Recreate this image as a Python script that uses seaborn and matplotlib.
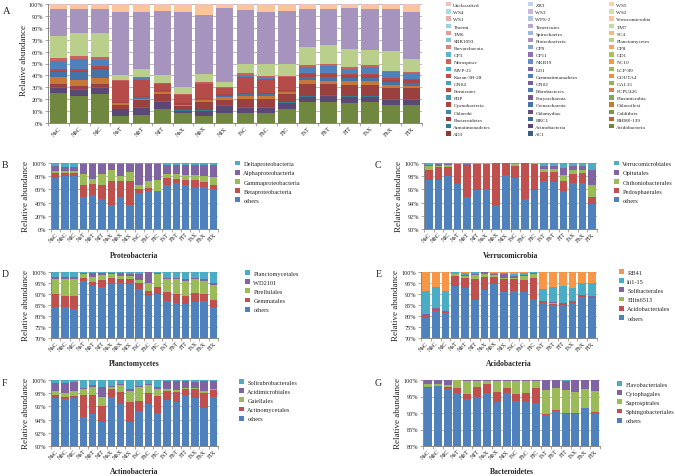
import numpy as np
import pandas as pd
import matplotlib
matplotlib.use("Agg")
import matplotlib.pyplot as plt
from matplotlib.patches import Patch
from matplotlib.ticker import MultipleLocator, PercentFormatter, FixedLocator
import seaborn as sns

samples = ["NsC", "NbC", "NlC", "NsT", "NbT", "NlT", "NsX", "NbX", "NlX",
           "FsC", "FbC", "FlC", "FsT", "FbT", "FlT", "FsX", "FbX", "FlX"]

# ---- panel A: phyla, in stacking order (bottom first) ----
phyla = ["AC1", "AD3", "Acidobacteria", "Actinobacteria", "Armatimonadetes", "BHI80-139",
         "BRC1", "Bacteroidetes", "Caldithrix", "Chlamydiae", "Chlorobi", "Chloroflexi",
         "Crenarchaeota", "Cyanobacteria", "Elusimicrobia", "Euryarchaeota", "FBP", "FCPU426",
         "Fibrobacteres", "Firmicutes", "GAL15", "GN02", "GN04", "GOUTA4",
         "Gemmatimonadetes", "Kazan-3B-28", "LCP-89", "LD1", "MVP-21", "NC10",
         "NKB19", "Nitrospirae", "OD1", "OP11", "OP3", "OP8",
         "OP9", "Parvarchaeota", "Planctomycetes", "Proteobacteria", "SBR1093", "SC4",
         "Spirochaetes", "TM6", "TM7", "Tenericutes", "Thermi", "Verrucomicrobia",
         "WPS-2", "WS1", "WS2", "WS3", "WS4", "WS5", "ZB3", "Unclassified"]

acidobacteria = [25, 23, 24.5, 6, 7, 12, 8, 6, 8.5, 8, 8.5, 12, 17.5, 18, 17, 17.5, 15, 15]
actinobacteria = [4.5, 4.5, 4.5, 5.5, 6, 6, 2.5, 4.5, 6, 5, 4.5, 5, 4, 4.5, 4.5, 4, 4.5, 4]
armatimonadetes = [0.8, 1, 1, 0.5, 0.5, 0.5, 0.5, 0.5, 0.5, 0.5, 0.5, 0.5, 1, 1, 1, 1, 1, 1]
bacteroidetes = [2.7, 2.5, 2.5, 3, 5.5, 5.5, 3, 7, 4, 7, 7, 6.5, 10.5, 9, 9.5, 9.5, 9, 9]
chloroflexi = [5.5, 5, 5, 1.5, 1.5, 2, 1, 1, 3, 2.5, 2.5, 2, 3, 3, 3, 3, 2.5, 2.5]
crenarchaeota = [4.5, 7, 8, 0.5, 1.5, 1, 0.5, 1, 1, 1.5, 1, 0.5, 3, 3.5, 3, 3, 2.5, 2.5]
cyanobacteria = [1, 1, 1, 1, 1, 1, 1, 1, 1, 1, 1, 1, 2, 2, 2, 2, 2, 2]
firmicutes = [1, 1, 1, 17, 13, 5, 7, 12, 5, 13.5, 12, 11, 1, 1, 1, 1, 1, 1]
gemmatimonadetes = [7.5, 8.5, 5.5, 0.5, 1.5, 0.5, 0.3, 1, 0.5, 1.5, 1.5, 0.5, 5, 6, 4.5, 6, 5, 5]
nitrospirae = [2.5, 2.5, 2.5, 0.5, 1, 0.5, 0.2, 0.5, 0.5, 1.5, 1, 0.5, 1.5, 1.5, 1.5, 1.5, 1.5, 1]
planctomycetes = [18.5, 19.5, 20, 4.5, 6.5, 6.5, 6, 6.5, 4.5, 8, 10.5, 10, 15.5, 16, 15, 13, 16.5, 11]
proteobacteria = [22, 20, 20, 52.5, 48, 53.5, 63.5, 50, 62, 45, 43, 45, 32, 30.5, 34.5, 34.5, 35.5, 39]
sbr1093 = [0.5, 0.5, 0.5, 0, 0, 0, 0, 0, 0, 0, 0, 0, 0, 0, 0, 0, 0, 0]
tm7 = [0, 0, 0, 1.5, 0.5, 0.5, 0.5, 0, 0, 0, 0, 0, 0, 0, 0, 0, 0, 0]
verrucomicrobia = [3, 3, 3, 3.5, 5, 4, 4, 7, 2.5, 4, 5.5, 4, 3, 3, 2.5, 3, 3, 6]
unclassified = [1, 1, 1, 2, 1.5, 1.5, 2, 2, 1, 1, 1.5, 1.5, 1, 1, 1, 1, 1, 1]

# ---- panels B-G: orders within phyla ----
proteo_labels = ["others", "Betaproteobacteria", "Gammaproteobacteria",
                 "Alphaproteobacteria", "Deltaproteobacteria"]
proteo_others = [78, 80, 80, 48, 52, 46, 37, 49, 37, 55, 58, 57, 67, 69, 67, 64, 63, 61]
proteo_beta = [7, 5, 5, 19, 16, 20, 36, 23, 36, 6, 4, 1, 10, 7, 7, 10, 8, 5]
proteo_gamma = [3, 3, 3, 16, 8, 18, 16, 8, 13, 6, 11, 17, 7, 7, 8, 8, 9, 13]
proteo_alpha = [7, 6, 6, 15, 22, 14, 9, 18, 12, 31, 25, 23, 13, 14, 15, 15, 17, 18]
proteo_delta = [5, 6, 6, 2, 2, 2, 2, 2, 2, 2, 2, 2, 3, 3, 3, 3, 3, 3]

verru_labels = ["others", "Pedosphaerales", "Chthoniobacterales",
                "Opitutales", "Verrucomicrobiales"]
verru_others = [97.4, 97.4, 98.0, 96.8, 94.8, 95.9, 96.1, 93.6, 98.2,
                97.7, 94.6, 95.9, 97.2, 97.1, 95.8, 97.0, 97.0, 93.8]
verru_pedo = [1.6, 2.0, 1.4, 3.1, 4.9, 4.0, 3.8, 6.2, 1.6, 1.9, 5.2, 4.0, 1.4, 1.5, 1.4, 1.3, 1.5, 1.0]
verru_chtho = [0.5, 0.2, 0.3, 0.05, 0.05, 0.05, 0.05, 0.05, 0.1, 0.2, 0.05, 0.05, 0.5, 0.5, 1.0, 0.7, 0.4, 1.8]
verru_opit = [0.2, 0.2, 0.15, 0.05, 0.15, 0.05, 0.05, 0.1, 0.05, 0.1, 0.1, 0.05, 0.4, 0.4, 1.0, 0.6, 0.7, 2.3]
verru_verru = [0.3, 0.2, 0.15, 0.0, 0.1, 0.0, 0.0, 0.05, 0.05, 0.1, 0.05, 0.0, 0.5, 0.5, 0.8, 0.4, 0.4, 1.1]

planct_labels = ["others", "Gemmatales", "Pirellulales", "WD2101", "Planctomycetales"]
planct_others = [84.3, 83.9, 83.1, 95.8, 94.0, 93.3, 94.8, 94.8, 95.0,
                 92.4, 89.0, 90.0, 86.6, 86.0, 85.3, 86.5, 86.6, 84.0]
planct_gemm = [5.5, 5.4, 5.9, 1.7, 1.6, 2.9, 2.6, 1.8, 1.8, 2.8, 2.4, 3.0, 4.3, 4.1, 4.0, 4.1, 3.4, 3.1]
planct_pirell = [7.0, 7.5, 7.8, 1.6, 2.2, 2.6, 1.6, 1.6, 1.6, 1.3, 3.5, 5.9, 5.8, 6.7, 6.7, 6.0, 6.0, 7.1]
planct_wd2101 = [1.0, 1.0, 1.0, 0.5, 1.6, 0.7, 0.6, 1.2, 0.9, 2.8, 4.9, 0.6, 0.7, 0.7, 0.7, 0.8, 0.7, 0.6]
planct_planct = [2.2, 2.2, 2.2, 0.4, 0.6, 0.5, 0.4, 0.6, 0.7, 0.7, 0.2, 0.5, 2.6, 2.5, 3.3, 2.6, 3.3, 5.2]

acido_labels = ["others", "Acidobacteriales", "Ellin6513", "Solibacterales", "iii1-15", "RB41"]
acido_others = [79.7, 82.3, 81.2, 93.7, 92.9, 87.4, 92.0, 94.4, 90.8,
                91.5, 91.1, 87.7, 85.7, 85.1, 84.9, 85.9, 88.7, 88.1]
acido_acidob = [0.6, 0.7, 0.5, 4.7, 4.5, 9.6, 5.8, 3.5, 6.1, 5.3, 5.4, 9.8, 0.6, 0.5, 0.5, 0.4, 0.4, 0.6]
acido_ellin = [0.1, 0.1, 0.1, 0.5, 0.6, 1.5, 1.2, 0.7, 0.5, 0.4, 1.5, 1.5, 0.1, 0.2, 0.1, 0.1, 0.1, 0.1]
acido_soli = [0.6, 0.6, 0.5, 0.4, 0.6, 0.7, 0.8, 0.6, 1.9, 1.1, 0.8, 0.5, 0.6, 0.7, 0.6, 0.6, 0.5, 0.4]
acido_iii = [10.5, 9.3, 9.2, 0.6, 1.1, 0.6, 0.1, 0.5, 0.4, 1.0, 0.7, 0.3, 5.5, 6.7, 7.6, 5.8, 5.4, 5.8]
acido_rb41 = [8.5, 7.0, 8.5, 0.1, 0.3, 0.2, 0.1, 0.3, 0.3, 0.7, 0.5, 0.2, 7.5, 6.8, 6.3, 7.2, 4.9, 5.0]

actino_labels = ["others", "Actinomycetales", "Gaiellales",
                 "Acidimicrobiales", "Solirubrobacterales"]
actino_others = [97.2, 97.1, 97.2, 94.4, 94.8, 93.7, 97.4, 96.3, 93.6,
                 95.3, 96.4, 95.0, 96.9, 96.7, 97.7, 97.2, 95.8, 97.5]
actino_actinom = [0.6, 0.4, 0.4, 3.4, 3.0, 2.3, 1.3, 1.9, 3.0, 1.5, 1.7, 2.6, 1.5, 1.5, 0.9, 1.4, 2.2, 1.0]
actino_gaiell = [0.6, 0.6, 0.7, 0.8, 1.1, 1.5, 0.2, 1.0, 1.7, 2.1, 1.1, 1.1, 0.2, 0.3, 0.2, 0.2, 0.4, 0.2]
actino_acidim = [1.2, 1.5, 1.4, 0.2, 0.3, 1.4, 0.2, 0.2, 0.4, 0.2, 0.2, 0.2, 1.2, 1.3, 1.0, 0.9, 1.5, 1.2]
actino_soliru = [0.4, 0.4, 0.3, 1.2, 0.8, 1.1, 0.9, 0.6, 1.3, 0.9, 0.6, 1.1, 0.2, 0.2, 0.2, 0.3, 0.1, 0.1]

bacter_labels = ["others", "Sphingobacteriales", "Saprospirales",
                 "Cytophagales", "Flavobacteriales"]
bacter_others = [97.5, 98.1, 97.4, 96.2, 94.3, 94.8, 96.2, 93.3, 96.2,
                 93.7, 93.3, 93.1, 89.3, 90.7, 89.6, 89.6, 91.4, 89.9]
bacter_sphingo = [0.5, 0.2, 0.4, 1.3, 1.6, 3.1, 2.5, 3.0, 1.3, 2.0, 2.9, 4.4, 0.3, 0.3, 0.4, 0.5, 0.2, 0.3]
bacter_sapro = [0.8, 0.6, 0.8, 2.4, 3.9, 1.8, 1.0, 3.5, 2.3, 4.0, 3.5, 2.2, 7.5, 6.6, 7.1, 6.3, 5.6, 6.5]
bacter_cyto = [1.15, 1.05, 1.35, 0.05, 0.15, 0.25, 0.25, 0.15, 0.15, 0.2, 0.2, 0.2, 2.8, 2.3, 2.7, 3.5, 2.7, 3.2]
bacter_flavo = [0.05, 0.05, 0.05, 0.05, 0.05, 0.05, 0.05, 0.05, 0.05, 0.1, 0.1, 0.1, 0.1, 0.1, 0.2, 0.1, 0.1, 0.1]

# ---- styling ----
sns.set_theme(style="white")
plt.rcParams["font.family"] = ["Liberation Serif", "DejaVu Serif"]

excel = ["#4F81BD", "#C0504D", "#9BBB59", "#8064A2", "#4BACC6", "#F79646"]
shades = [0.72, 0.80, 0.88, 0.95, 1.0, 1.1, 1.3, 1.45, 1.55, 1.65]


def shade(hex_color, f):
    rgb = np.array(matplotlib.colors.to_rgb(hex_color))
    if f <= 1:
        rgb = rgb * f
    else:
        rgb = rgb + (1 - rgb) * (f - 1)
    return tuple(np.clip(rgb, 0, 1))


phylum_colors = [shade(excel[i % 6], shades[i // 6]) for i in range(len(phyla))]

W, H = 675, 477
fig = plt.figure(figsize=(W / 100, H / 100), dpi=100)


def add_ax(x0, y0, x1, y1):
    return fig.add_axes([x0 / W, 1 - y1 / H, (x1 - x0) / W, (y1 - y0) / H])


def stacked(ax, parts, colors, ymin, step, width):
    cum = np.cumsum(np.array(parts, dtype=float), axis=0)
    # draw cumulative tops from the top layer down so lower layers sit in front
    for i in range(len(parts) - 1, -1, -1):
        if np.allclose(parts[i], 0):
            continue
        sns.barplot(x=samples, y=cum[i], color=colors[i], width=width, saturation=1,
                    errorbar=None, linewidth=0, ax=ax, zorder=2)
    ax.set_ylim(ymin, 100)
    ax.set_xlim(-0.5, len(samples) - 0.5)
    ax.yaxis.set_major_locator(MultipleLocator(step))
    ax.yaxis.set_major_formatter(PercentFormatter(100, decimals=0))
    ax.grid(axis="y", color="#AFAFAF", linewidth=0.6)
    ax.set_axisbelow(True)
    for s in ["top", "right"]:
        ax.spines[s].set_visible(False)
    for s in ["left", "bottom"]:
        ax.spines[s].set_color("#868686")
        ax.spines[s].set_linewidth(0.7)
    ax.tick_params(axis="y", labelsize=4.5, length=2, width=0.5, color="#868686", pad=1.5, left=True)
    ax.tick_params(axis="x", which="major", labelsize=4.5, length=0, pad=1.5)
    ax.xaxis.set_minor_locator(FixedLocator(np.arange(-0.5, len(samples), 1)))
    ax.tick_params(axis="x", which="minor", length=2, width=0.5, color="#868686", bottom=True)
    plt.setp(ax.get_xticklabels(), rotation=45, ha="right", rotation_mode="anchor")
    ax.set_xlabel("")
    ax.set_ylabel("")


# ---- panel A ----
axA = add_ax(48, 5, 422, 124)
drawn = {"Acidobacteria": acidobacteria, "Actinobacteria": actinobacteria,
         "Armatimonadetes": armatimonadetes, "Bacteroidetes": bacteroidetes,
         "Chloroflexi": chloroflexi, "Crenarchaeota": crenarchaeota,
         "Cyanobacteria": cyanobacteria, "Firmicutes": firmicutes,
         "Gemmatimonadetes": gemmatimonadetes, "Nitrospirae": nitrospirae,
         "Planctomycetes": planctomycetes, "Proteobacteria": proteobacteria,
         "SBR1093": sbr1093, "TM7": tm7, "Verrucomicrobia": verrucomicrobia,
         "Unclassified": unclassified}
dfA = pd.DataFrame(0.0, index=samples, columns=phyla)
for name, vals in drawn.items():
    dfA[name] = vals
stacked(axA, [dfA[p].values for p in phyla], phylum_colors, 0, 10, 0.84)
axA.set_ylabel("Relative abundance", fontsize=6.5)
axA.yaxis.set_label_coords(28 / W, 1 - 60 / H, transform=fig.transFigure)
fig.text(3 / W, 1 - 12 / H, "A", fontsize=7.5, ha="left", va="center")

# legend of A: rows read left to right, top series first
rev = phyla[::-1]
rev_colors = phylum_colors[::-1]
for col, xpx in enumerate([446, 528, 609]):
    names = rev[col::3]
    cols = rev_colors[col::3]
    handles = [Patch(facecolor=c, edgecolor="none") for c in cols]
    fig.legend(handles, names, loc="upper left", bbox_to_anchor=(xpx / W, 1 - 3.0 / H),
               frameon=False, fontsize=3.8, handlelength=0.9, handleheight=0.9,
               handletextpad=0.5, labelspacing=0.41, borderpad=0, borderaxespad=0)

# ---- panels B-G ----
panels = [
    ("B", "Proteobacteria", (51, 164, 218, 230), 0, 20,
     [proteo_others, proteo_beta, proteo_gamma, proteo_alpha, proteo_delta], proteo_labels,
     [excel[0], excel[1], excel[2], excel[3], excel[4]], (2, 166), 256, (235, 161.5)),
    ("C", "Verrucomicrobia", (424, 164, 597, 230), 90, 2,
     [verru_others, verru_pedo, verru_chtho, verru_opit, verru_verru], verru_labels,
     [excel[0], excel[1], excel[2], excel[3], excel[4]], (375, 166), 256, (614, 161.5)),
    ("D", "Planctomycetes", (51, 273, 218, 339), 70, 5,
     [planct_others, planct_gemm, planct_pirell, planct_wd2101, planct_planct], planct_labels,
     [excel[0], excel[1], excel[2], excel[3], excel[4]], (2, 275), 364, (245, 271)),
    ("E", "Acidobacteria", (421, 273, 597, 339), 70, 5,
     [acido_others, acido_acidob, acido_ellin, acido_soli, acido_iii, acido_rb41], acido_labels,
     [excel[0], excel[1], excel[2], excel[3], excel[4], excel[5]], (376, 275), 364, (619, 270)),
    ("F", "Actinobacteria", (51, 381, 218, 447), 90, 2,
     [actino_others, actino_actinom, actino_gaiell, actino_acidim, actino_soliru], actino_labels,
     [excel[0], excel[1], excel[2], excel[3], excel[4]], (2, 384), 472, (239, 380)),
    ("G", "Bacteroidetes", (423, 381, 600, 447), 80, 5,
     [bacter_others, bacter_sphingo, bacter_sapro, bacter_cyto, bacter_flavo], bacter_labels,
     [excel[0], excel[1], excel[2], excel[3], excel[4]], (375, 384), 472, (617, 382)),
]

for letter, title, box, ymin, step, parts, labels, colors, lpos, title_y, leg in panels:
    ax = add_ax(*box)
    stacked(ax, parts, colors, ymin, step, 0.8)
    ax.set_ylabel("Relative abundance", fontsize=6.5)
    ax.yaxis.set_label_coords((box[0] - 21) / W, 1 - (box[1] + box[3]) / 2 / H,
                              transform=fig.transFigure)
    ax.set_xlabel(title, fontsize=5.5, fontweight="bold")
    ax.xaxis.set_label_coords((box[0] + box[2]) / 2 / W, 1 - (title_y - 4) / H,
                              transform=fig.transFigure)
    fig.text(lpos[0] / W, 1 - lpos[1] / H, letter, fontsize=7, ha="left", va="center")
    handles = [Patch(facecolor=c, edgecolor="none") for c in colors][::-1]
    fig.legend(handles, labels[::-1], loc="upper left",
               bbox_to_anchor=(leg[0] / W, 1 - leg[1] / H), frameon=False,
               fontsize=4.6, handlelength=0.8, handleheight=0.8, handletextpad=0.5,
               labelspacing=0.55, borderpad=0, borderaxespad=0)

fig.savefig("out.png", dpi=100)
